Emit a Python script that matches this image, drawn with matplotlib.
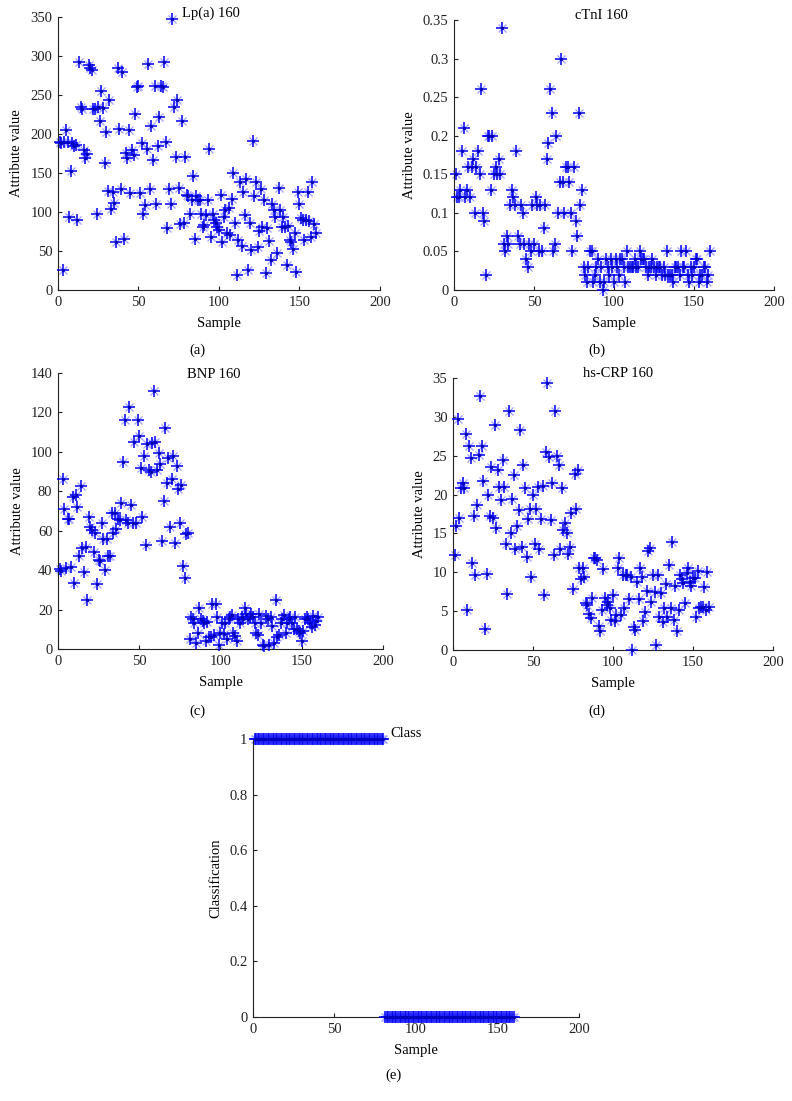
import numpy as np
import matplotlib
matplotlib.use("Agg")
import matplotlib.pyplot as plt
from matplotlib.ticker import FuncFormatter

plt.rcParams['font.family'] = ['Liberation Serif', 'DejaVu Serif']

sample = np.arange(1, 161)

lpa = [190,188,26,190,205,190,93,153,188,184,
       186,90,292,234,232,179,169,174,288,285,
       282,232,232,98,235,217,255,233,163,203,
       127,244,104,126,111,62,284,207,130,279,
       65,175,169,205,124,179,173,226,260,261,
       124,189,98,109,181,290,130,210,167,261,
       110,184,222,261,260,292,190,79,130,110,
       347,235,170,244,131,85,217,86,171,122,
       120,98,115,146,65,120,116,115,97,81,
       83,96,115,181,68,98,90,86,81,77,
       122,62,94,102,73,105,70,117,150,86,
       19,64,139,56,125,96,142,26,86,51,
       191,120,139,55,75,129,81,116,22,79,
       63,38,110,102,94,47,131,103,81,94,
       81,32,82,64,61,52,73,23,125,110,
       92,90,64,90,126,88,68,139,85,73]

ctni = [0.15,0.12,0.12,0.13,0.18,0.21,0.12,0.13,0.16,0.12,
        0.16,0.17,0.10,0.16,0.18,0.15,0.26,0.10,0.09,0.02,
        0.20,0.20,0.13,0.20,0.15,0.16,0.15,0.17,0.15,0.34,
        0.06,0.05,0.07,0.06,0.11,0.13,0.12,0.11,0.18,0.07,
        0.06,0.11,0.10,0.06,0.04,0.03,0.06,0.05,0.11,0.06,
        0.12,0.11,0.05,0.11,0.05,0.08,0.11,0.17,0.19,0.26,
        0.23,0.05,0.06,0.20,0.10,0.14,0.30,0.14,0.10,0.16,
        0.16,0.14,0.10,0.05,0.16,0.09,0.07,0.23,0.11,0.13,
        0.03,0.02,0.01,0.03,0.05,0.05,0.01,0.02,0.03,0.04,
        0.01,0.03,0.00,0.01,0.04,0.03,0.02,0.04,0.03,0.01,
        0.04,0.03,0.02,0.04,0.04,0.03,0.01,0.05,0.03,0.03,
        0.03,0.03,0.04,0.03,0.03,0.05,0.04,0.04,0.04,0.03,
        0.02,0.03,0.03,0.04,0.03,0.02,0.03,0.03,0.03,0.02,
        0.03,0.02,0.05,0.02,0.02,0.02,0.01,0.03,0.03,0.03,
        0.02,0.05,0.03,0.03,0.05,0.02,0.01,0.03,0.02,0.03,
        0.04,0.04,0.01,0.02,0.02,0.03,0.03,0.01,0.02,0.05]

bnp = [40.6,39.4,86,71,41,66,66,41.6,77,33.5,
       78,72,47,82.5,51,39,52,25,67,62,
       60.5,49,59,33,45,44.5,64,56,40,56,
       47,47,69,59,69,61,66,65.6,74,95,
       116,65.6,64,123,73,64,105,64,116,108,
       92,67,98,53,104,91,90,104.5,131,105,
       91,99.4,94,55,75,112,84,97,62,86,
       98,54,93,81,64,83,42,36,58.5,59,
       5,16.5,15,13,3,8,21,15,14,13,
       4,13.5,6,6,23,7,23,16.5,2,8,
       13,7.5,13,5,15,16.5,17.5,8,6.5,4,
       15,13,16.5,15,21,18,15,16.5,18,16.5,
       13,8,7,18,13,2,1.7,17,15,2,
       16.5,11.5,3,25,6,7,13,15,17.5,8,
       13,15,16.5,13,10,16.5,10,9,8,4,
       9,15,16.5,15,13,11,17,12,14,16]

hscrp = [12.2,15.9,29.7,17,20.8,21.5,20.8,27.8,5.1,26.2,
         24.7,11.2,17.3,9.7,18.7,25.1,32.7,26.2,21.7,2.7,
         9.8,20,17.3,23.5,17,28.9,15.7,23.2,21,19.3,
         24.5,21,13.7,7.2,30.8,15,19.5,22.5,13,15.9,
         18,28.3,13.3,23.8,20.8,12,16.8,18.2,9.4,20,
         13.7,18.2,21,13,16.8,21.1,7.1,25.5,34.4,24.9,
         16.7,21.5,12.2,30.8,25,23.8,13,20.8,15.5,16.4,
         15.1,12.4,13.3,17.6,7.9,22.7,18.1,23.2,10.6,9.2,
         10.6,9.4,6,5.8,4.6,4.1,6.7,11.8,11.9,11.6,
         3.1,2.4,5.2,10.4,6.7,5.8,6.2,5.4,3.9,7.1,
         3.7,4.5,10.6,11.9,4.5,9.7,5.4,9.7,9.7,6.6,
         9.4,0,3,2.6,8.8,6.6,10.5,9.4,3.7,4.9,
         7.6,12.7,13.1,6.2,9.7,7.5,0.7,9.7,4.2,7.4,
         3.6,5.4,8.5,4.2,11,5.4,13.9,3.9,8.3,2.4,
         5.2,9.7,9.1,8.6,6,9.9,10.5,8.8,8.2,9.3,
         9.3,4.2,10.2,5.4,5.6,5.6,8.1,5.2,10.1,5.5]

cls = [1] * 80 + [0] * 80

panels = [
    (lpa, 'Lp(a) 160', 350, np.arange(0, 351, 50), [0.0732, 0.7366, 0.4066, 0.2480], (0.385, 1.015), '(a)', (197, 350)),
    (ctni, 'cTnI 160', 0.35, np.arange(0, 0.351, 0.05), [0.5732, 0.7366, 0.4040, 0.2452], (0.378, 1.018), '(b)', (597, 350)),
    (bnp, 'BNP 160', 140, np.arange(0, 141, 20), [0.0732, 0.4105, 0.4104, 0.2507], (0.397, 0.993), '(c)', (197, 711)),
    (hscrp, 'hs-CRP 160', 35, np.arange(0, 36, 5), [0.5720, 0.4096, 0.4040, 0.2470], (0.406, 1.018), '(d)', (597, 711)),
    (cls, 'Class', 1, np.arange(0, 1.01, 0.2), [0.3194, 0.0763, 0.4116, 0.2525], (0.423, 1.02), '(e)', (393, 1075)),
]

fig = plt.figure(figsize=(7.92, 11.01), dpi=100)
W, H = 792, 1101

fmt = FuncFormatter(lambda v, p: ('%g' % round(v, 4)))

for i, (vals, leg, ymax, yt, rect, lpos, plabel, ppos) in enumerate(panels):
    ax = fig.add_axes(rect)
    ax.plot(sample, vals, linestyle='none', marker='x', ms=5.5, mew=0.9,
            color='#a0a0ff', clip_on=False, zorder=2)
    ax.plot(sample, vals, linestyle='none', marker='+', ms=8, mew=1.1,
            color='#0000ff', clip_on=False, zorder=3)
    ax.plot(sample, vals, linestyle='none', marker='o', ms=2.4, mew=0,
            color='#0000bb', clip_on=False, zorder=4)
    ax.set_xlim(0, 200)
    ax.set_ylim(0, ymax)
    ax.set_xticks(np.arange(0, 201, 50))
    ax.set_yticks(yt)
    ax.yaxis.set_major_formatter(fmt)
    ax.xaxis.set_major_formatter(fmt)
    for s in ['top', 'right']:
        ax.spines[s].set_visible(False)
    for s in ['left', 'bottom']:
        ax.spines[s].set_linewidth(0.8)
        ax.spines[s].set_color('#222222')
    ax.tick_params(direction='in', length=3, width=0.8, labelsize=10.5,
                   pad=4, colors='#222222')
    ax.set_xlabel('Sample', fontsize=10.5, labelpad=6)
    ax.set_ylabel('Classification' if i == 4 else 'Attribute value',
                  fontsize=10.5, labelpad=5)
    ax.text(lpos[0], lpos[1], leg, transform=ax.transAxes, fontsize=10.5,
            ha='left', va='center')
    fig.text(ppos[0] / W, 1 - ppos[1] / H, plabel, fontsize=10.5,
             ha='center', va='center')

fig.savefig('out.png', dpi=100)
